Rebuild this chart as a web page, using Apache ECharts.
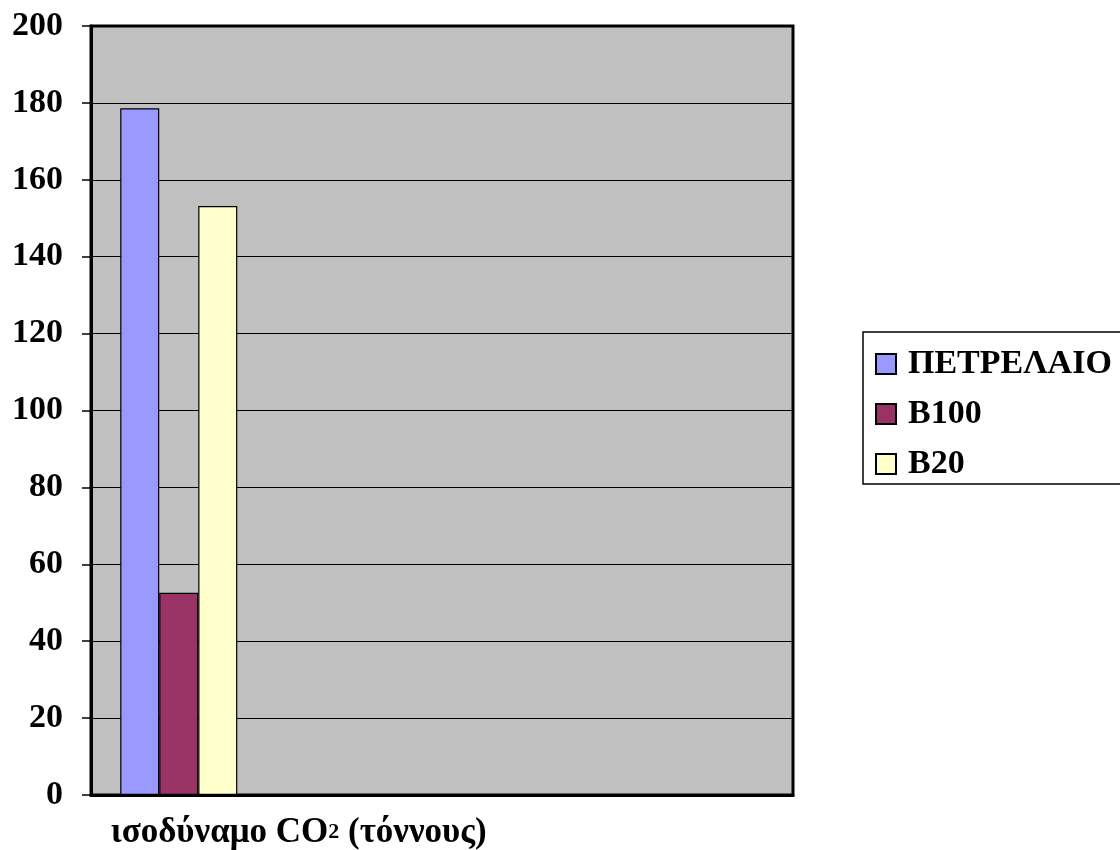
<!DOCTYPE html>
<html>
<head>
<meta charset="utf-8">
<script src="https://cdn.jsdelivr.net/npm/echarts@6/dist/echarts.min.js"></script>
<style>html,body{margin:0;padding:0;background:#fff;}#c{width:1120px;height:850px;}</style>
</head>
<body>
<div id="c"></div>
<script>
// Data
const categories = ['ισοδύναμο CO{sub|2} (τόννους)', '', '', ''];
const seriesNames = ['ΠΕΤΡΕΛΑΙΟ', 'B100', 'B20'];
const petrelaio = [178.6, null, null, null];
const b100 = [52.6, null, null, null];
const b20 = [153.2, null, null, null];
const seriesColors = ['#9999FF', '#993366', '#FFFFCC'];

const font = '"Liberation Serif", "Times New Roman", serif';
const chart = echarts.init(document.getElementById('c'), null, {renderer: 'canvas'});
const values = [petrelaio, b100, b20];

chart.setOption({
  animation: false,
  backgroundColor: '#ffffff',
  grid: {
    left: 91, right: 327, top: 26, bottom: 55,
    show: true, backgroundColor: '#C0C0C0', borderColor: '#000', borderWidth: 3
  },
  legend: {
    orient: 'vertical',
    left: 863, top: 332,
    borderColor: '#000', borderWidth: 1.5,
    padding: [12, 12, 0, 12],
    itemWidth: 20, itemHeight: 20, itemGap: 10,
    icon: 'rect',
    textStyle: {fontFamily: font, fontWeight: 'bold', fontSize: 34, color: '#000', lineHeight: 40, padding: [0, 0, 0, 7]},
    data: seriesNames
  },
  xAxis: {
    type: 'category',
    data: categories,
    axisLine: {lineStyle: {color: '#000', width: 3}},
    axisTick: {show: false},
    splitLine: {show: false},
    axisLabel: {
      interval: 0,
      margin: 20,
      color: '#000',
      fontFamily: font, fontWeight: 'bold', fontSize: 35,
      padding: [0, 0, 0, 240],
      rich: {sub: {fontFamily: font, fontWeight: 'bold', fontSize: 22, color: '#000'}}
    }
  },
  yAxis: {
    type: 'value',
    min: 0, max: 200, interval: 20,
    axisLine: {show: true, lineStyle: {color: '#000', width: 3}},
    axisTick: {show: true, length: 9, lineStyle: {color: '#000', width: 1.5}},
    splitLine: {show: true, lineStyle: {color: '#000', width: 1}},
    axisLabel: {margin: 28, color: '#000', fontFamily: font, fontWeight: 'bold', fontSize: 34}
  },
  series: seriesNames.map((n, i) => ({
    name: n,
    type: 'bar',
    data: values[i],
    barGap: '0%',
    barCategoryGap: '33.3%',
    itemStyle: {color: seriesColors[i], borderColor: '#000', borderWidth: 1.2}
  }))
});
</script>
</body>
</html>
